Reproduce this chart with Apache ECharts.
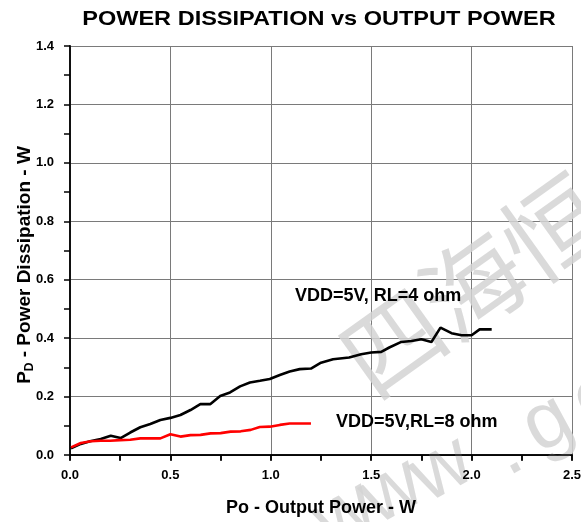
<!DOCTYPE html>
<html><head><meta charset="utf-8">
<script src="https://cdn.jsdelivr.net/npm/echarts@6/dist/echarts.min.js"></script>
<style>html,body{margin:0;padding:0;background:#fff}#c{width:581px;height:522px}</style>
</head><body><div id="c"></div>
<script>
const titleText = 'POWER DISSIPATION vs OUTPUT POWER';
const xTitle = 'Po - Output Power - W';
const yTitleMain = 'P';
const yTitleSub = 'D';
const yTitleRest = ' - Power Dissipation - W';
const label4 = 'VDD=5V, RL=4 ohm';
const label8 = 'VDD=5V,RL=8 ohm';
const rl4X = [0.005,0.054,0.10,0.153,0.203,0.252,0.30,0.35,0.40,0.45,0.50,0.55,0.60,0.649,0.698,0.748,0.797,0.847,0.896,0.946,0.995,1.045,1.094,1.144,1.20,1.25,1.31,1.39,1.45,1.50,1.55,1.59,1.65,1.70,1.75,1.80,1.845,1.90,1.95,2.00,2.04,2.10];
const rl4Y = [0.023,0.038,0.047,0.055,0.066,0.058,0.077,0.095,0.106,0.12,0.127,0.137,0.154,0.174,0.174,0.202,0.214,0.235,0.248,0.254,0.26,0.274,0.286,0.294,0.296,0.316,0.328,0.334,0.345,0.351,0.353,0.368,0.387,0.39,0.396,0.387,0.436,0.417,0.41,0.41,0.43,0.43];
const rl8X = [0.005,0.054,0.104,0.153,0.20,0.25,0.30,0.35,0.40,0.45,0.50,0.55,0.60,0.65,0.70,0.75,0.80,0.85,0.90,0.945,0.995,1.045,1.094,1.14,1.20];
const rl8Y = [0.026,0.041,0.047,0.049,0.049,0.051,0.052,0.057,0.057,0.057,0.071,0.063,0.068,0.069,0.074,0.075,0.08,0.081,0.086,0.096,0.097,0.103,0.108,0.108,0.108];
const label4Pos = [1.12, 0.544];
const label8Pos = [1.325, 0.113];
const watermarkCJK = ['四', '海', '恒'];
const watermarkLatin = ['w', 'w', '.', 'g', 'o'];

const chart = echarts.init(document.getElementById('c'));
const F = 'Arial, "Liberation Sans", sans-serif';
const tickStyle = {color: '#000', width: 1.5};
chart.setOption({
  animation: false,
  backgroundColor: '#fff',
  grid: {left: 70, right: 9, top: 46, bottom: 67, outerBoundsMode: 'none', containLabel: false},
  xAxis: [
    {type: 'value', min: 0, max: 2.5, interval: 0.5, position: 'bottom', z: 3,
      name: xTitle, nameLocation: 'middle', nameGap: 44,
      nameTextStyle: {fontFamily: F, fontWeight: 'bold', fontSize: 18, color: '#000'},
      axisLine: {show: true, lineStyle: tickStyle},
      axisTick: {show: true, inside: false, length: 6, lineStyle: tickStyle},
      minorTick: {show: true, splitNumber: 2, length: 6, lineStyle: tickStyle},
      axisLabel: {fontFamily: F, fontWeight: 'bold', fontSize: 13, color: '#000', margin: 14,
        formatter: v => v.toFixed(1)},
      splitLine: {show: false}},
    {type: 'value', min: 0, max: 2.5, interval: 0.5, position: 'top', z: 0,
      axisLine: {show: true, lineStyle: tickStyle},
      axisTick: {show: true, inside: true, length: 5, lineStyle: tickStyle},
      minorTick: {show: true, splitNumber: 2, length: 5, lineStyle: tickStyle},
      axisLabel: {show: false},
      splitLine: {show: true, lineStyle: {color: '#7a7a7a', width: 1}}}
  ],
  yAxis: [
    {type: 'value', min: 0, max: 1.4, interval: 0.2, position: 'left', z: 3,
      axisLine: {show: true, lineStyle: tickStyle},
      axisTick: {show: true, inside: false, length: 6, lineStyle: tickStyle},
      minorTick: {show: true, splitNumber: 2, length: 6, lineStyle: tickStyle},
      axisLabel: {fontFamily: F, fontWeight: 'bold', fontSize: 13, color: '#000', margin: 16,
        formatter: v => v.toFixed(1)},
      splitLine: {show: false}},
    {type: 'value', min: 0, max: 1.4, interval: 0.2, position: 'right', z: 0,
      axisLine: {show: true, lineStyle: {color: '#444', width: 2}},
      axisTick: {show: false}, axisLabel: {show: false},
      splitLine: {show: true, lineStyle: {color: '#7a7a7a', width: 1}}}
  ],
  series: [
    {type: 'line', name: 'RL4', data: rl4X.map((x, i) => [x, rl4Y[i]]), showSymbol: false, symbol: 'none',
      lineStyle: {color: '#000', width: 2.6}, z: 5},
    {type: 'line', name: 'RL8', data: rl8X.map((x, i) => [x, rl8Y[i]]), showSymbol: false, symbol: 'none',
      lineStyle: {color: '#ff0000', width: 2.6}, z: 6}
  ]
});
const p4 = chart.convertToPixel({xAxisIndex: 0, yAxisIndex: 0}, label4Pos);
const p8 = chart.convertToPixel({xAxisIndex: 0, yAxisIndex: 0}, label8Pos);
const wmColor = 'rgba(212,212,212,0.85)';
const cjkPlaces = [[393, 342], [473, 285], [553, 228]];
const latinPlaces = [[345, 515], [392, 492], [442, 470], [507, 452], [548, 424], [598, 398]];
const wm = [];
watermarkCJK.forEach((ch, i) => wm.push({type: 'text', x: cjkPlaces[i][0], y: cjkPlaces[i][1], rotation: 0.62, z: 1, silent: true,
  style: {text: ch, fill: wmColor, font: '100px "Noto Sans CJK SC"', textAlign: 'center', textVerticalAlign: 'middle'}}));
['w'].concat(watermarkLatin).forEach((ch, i) => wm.push({type: 'text', x: latinPlaces[i][0], y: latinPlaces[i][1], rotation: 0.5, z: 1, silent: true,
  style: {text: ch, fill: wmColor, font: '80px Arial', textAlign: 'center', textVerticalAlign: 'middle'}}));
chart.setOption({graphic: wm.concat([
  {type: 'text', x: 319, y: 19, scaleX: 1.12, z: 100,
    style: {text: titleText, fill: '#000', font: 'bold 21px ' + F, textAlign: 'center', textVerticalAlign: 'middle'}},
  {type: 'text', x: 25, y: 265, rotation: Math.PI / 2, z: 100,
    style: {text: '{p|' + yTitleMain + '}{s|' + yTitleSub + '}{p|' + yTitleRest + '}', textAlign: 'center', textVerticalAlign: 'middle',
      rich: {p: {fontFamily: F, fontWeight: 'bold', fontSize: 19, fill: '#000'},
             s: {fontFamily: F, fontWeight: 'bold', fontSize: 12, fill: '#000', padding: [10, 0, 0, 0]}}}},
  {type: 'text', x: p4[0], y: p4[1], z: 100,
    style: {text: label4, fill: '#000', font: 'bold 18px ' + F, textAlign: 'left', textVerticalAlign: 'middle'}},
  {type: 'text', x: p8[0], y: p8[1], z: 100,
    style: {text: label8, fill: '#000', font: 'bold 18px ' + F, textAlign: 'left', textVerticalAlign: 'middle'}}
])});
</script></body></html>
